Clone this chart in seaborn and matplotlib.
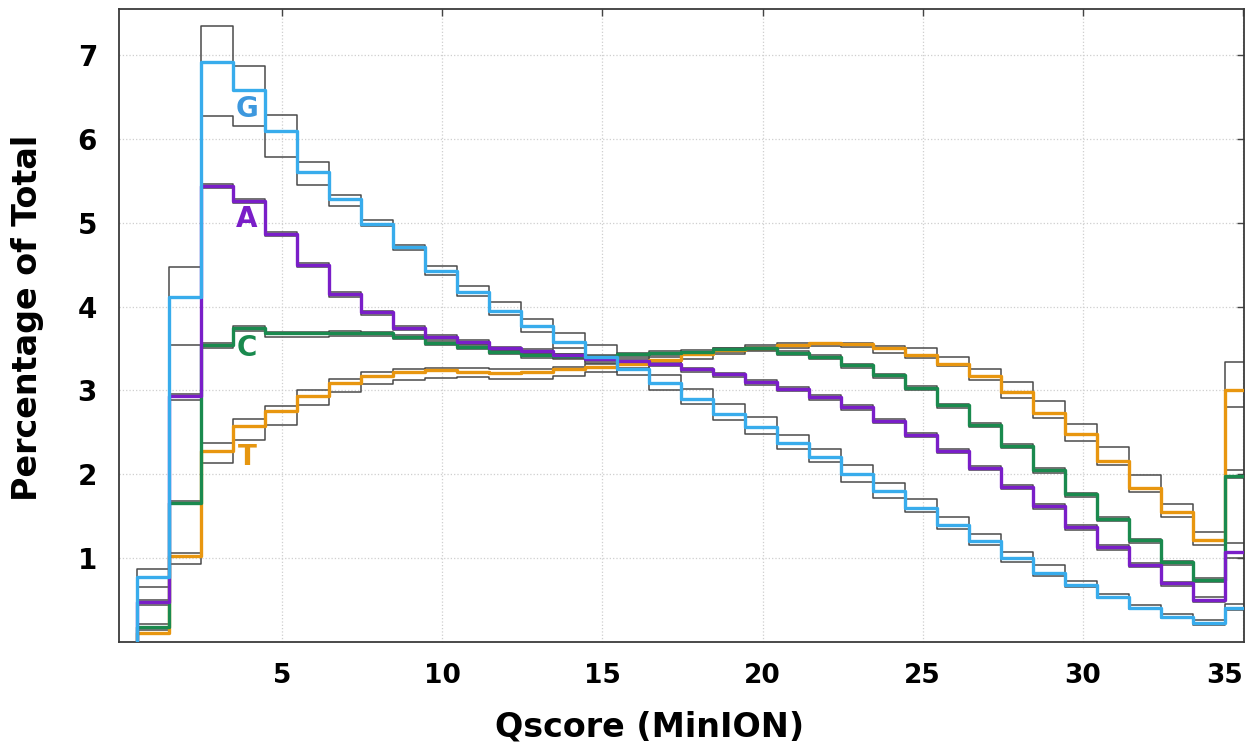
import numpy as np
import pandas as pd
import matplotlib
matplotlib.use("Agg")
import matplotlib.pyplot as plt
import seaborn as sns

# Qscore bins (width 1), left edge of the first bin
bin_start = 0.45
n_bins = 35

# percentage of total per Qscore bin, colored line = mean, black = bounds
G = [0.78, 4.11, 6.92, 6.58, 6.10, 5.61, 5.28, 4.99, 4.71, 4.42, 4.17, 3.95, 3.77, 3.58, 3.40, 3.25, 3.09, 2.90,
     2.72, 2.56, 2.37, 2.20, 2.00, 1.80, 1.60, 1.39, 1.20, 1.00, 0.82, 0.68, 0.54, 0.41, 0.30, 0.22, 0.41]
G_hi = [0.87, 4.47, 7.35, 6.87, 6.29, 5.73, 5.33, 5.03, 4.74, 4.48, 4.24, 4.05, 3.85, 3.69, 3.54, 3.34, 3.18, 3.02,
        2.84, 2.68, 2.47, 2.30, 2.11, 1.90, 1.70, 1.49, 1.29, 1.07, 0.92, 0.73, 0.57, 0.44, 0.33, 0.26, 0.45]
G_lo = [0.66, 3.54, 6.27, 6.15, 5.79, 5.45, 5.20, 4.96, 4.68, 4.38, 4.13, 3.90, 3.70, 3.51, 3.33, 3.18, 3.00, 2.84,
        2.65, 2.48, 2.30, 2.15, 1.91, 1.72, 1.55, 1.35, 1.16, 0.95, 0.79, 0.65, 0.52, 0.39, 0.29, 0.20, 0.38]

A = [0.47, 2.93, 5.44, 5.26, 4.87, 4.50, 4.15, 3.93, 3.75, 3.64, 3.58, 3.50, 3.47, 3.42, 3.38, 3.35, 3.32, 3.25,
     3.19, 3.10, 3.02, 2.92, 2.80, 2.64, 2.47, 2.28, 2.08, 1.85, 1.62, 1.37, 1.13, 0.92, 0.70, 0.50, 1.07]
A_hi = [0.50, 2.96, 5.46, 5.28, 4.89, 4.52, 4.17, 3.95, 3.77, 3.66, 3.60, 3.52, 3.49, 3.44, 3.41, 3.38, 3.34, 3.27,
        3.21, 3.12, 3.04, 2.94, 2.82, 2.66, 2.49, 2.30, 2.10, 1.87, 1.64, 1.39, 1.15, 0.94, 0.72, 0.53, 1.18]
A_lo = [0.44, 2.88, 5.41, 5.23, 4.84, 4.47, 4.12, 3.90, 3.72, 3.61, 3.55, 3.47, 3.44, 3.39, 3.35, 3.32, 3.29, 3.22,
        3.16, 3.07, 2.99, 2.89, 2.77, 2.61, 2.44, 2.25, 2.05, 1.82, 1.59, 1.34, 1.10, 0.89, 0.67, 0.48, 1.00]

C = [0.18, 1.66, 3.54, 3.75, 3.68, 3.68, 3.69, 3.68, 3.64, 3.57, 3.52, 3.46, 3.42, 3.41, 3.40, 3.43, 3.45, 3.46,
     3.49, 3.50, 3.45, 3.40, 3.30, 3.18, 3.03, 2.82, 2.59, 2.34, 2.05, 1.76, 1.47, 1.21, 0.95, 0.74, 1.98]
C_hi = [0.21, 1.68, 3.56, 3.77, 3.70, 3.70, 3.71, 3.70, 3.66, 3.59, 3.54, 3.48, 3.44, 3.43, 3.42, 3.45, 3.47, 3.48,
        3.51, 3.52, 3.47, 3.42, 3.32, 3.20, 3.05, 2.84, 2.61, 2.36, 2.07, 1.78, 1.49, 1.23, 0.97, 0.76, 2.05]
C_lo = [0.16, 1.64, 3.50, 3.71, 3.64, 3.64, 3.65, 3.65, 3.61, 3.54, 3.49, 3.43, 3.39, 3.38, 3.37, 3.40, 3.42, 3.43,
        3.46, 3.47, 3.42, 3.37, 3.27, 3.15, 3.00, 2.79, 2.56, 2.31, 2.02, 1.73, 1.44, 1.18, 0.92, 0.71, 1.95]

T = [0.11, 1.03, 2.28, 2.57, 2.75, 2.93, 3.09, 3.17, 3.22, 3.24, 3.22, 3.21, 3.22, 3.25, 3.28, 3.32, 3.36, 3.43,
     3.48, 3.51, 3.54, 3.56, 3.55, 3.50, 3.42, 3.32, 3.17, 2.98, 2.73, 2.48, 2.16, 1.84, 1.55, 1.22, 3.00]
T_hi = [0.14, 1.06, 2.37, 2.66, 2.81, 3.00, 3.14, 3.22, 3.26, 3.27, 3.27, 3.25, 3.25, 3.28, 3.31, 3.35, 3.40, 3.46,
        3.51, 3.54, 3.56, 3.57, 3.57, 3.53, 3.50, 3.40, 3.26, 3.10, 2.87, 2.60, 2.32, 1.99, 1.65, 1.31, 3.34]
T_lo = [0.09, 0.93, 2.13, 2.41, 2.59, 2.82, 2.98, 3.08, 3.12, 3.15, 3.16, 3.14, 3.14, 3.17, 3.22, 3.27, 3.32, 3.38,
        3.44, 3.48, 3.51, 3.53, 3.52, 3.45, 3.39, 3.29, 3.13, 2.91, 2.67, 2.40, 2.11, 1.79, 1.49, 1.15, 2.80]

bases = ["G", "A", "C", "T"]
means = {"G": G, "A": A, "C": C, "T": T}
bounds = {"G": (G_hi, G_lo), "A": (A_hi, A_lo), "C": (C_hi, C_lo), "T": (T_hi, T_lo)}
line_colors = {"G": "#38acec", "A": "#7a1ec8", "C": "#1a8a4e", "T": "#e8960f"}
text_colors = {"G": "#3d98de", "A": "#7a1ec8", "C": "#1a8a4e", "T": "#e6960f"}
label_pos = {"G": (3.9, 6.36), "A": (3.9, 5.05), "C": (3.9, 3.50), "T": (3.9, 2.205)}

edges = bin_start + np.arange(n_bins + 1)


def step_frame(vals):
    # outline of a histogram: rises from 0 at the first edge, steps-post after
    x = np.concatenate([[edges[0]], edges])
    y = np.concatenate([[0.0], vals, [vals[-1]]])
    return pd.DataFrame({"x": x, "y": y})


sns.set_style("white")
plt.rcParams["font.family"] = ["DejaVu Sans"]
plt.rcParams["text.color"] = "black"
plt.rcParams["xtick.labelcolor"] = "black"
plt.rcParams["ytick.labelcolor"] = "black"

fig = plt.figure(figsize=(12.55, 7.49), dpi=100)
ax = fig.add_axes([0.095, 0.143, 0.8964, 0.845])

# thin black bounds first, colored lines on top
for b in bases:
    for vals in bounds[b]:
        sns.lineplot(data=step_frame(vals), x="x", y="y", ax=ax, estimator=None, sort=False,
                     drawstyle="steps-post", color="#4a4a4a", linewidth=1.1, zorder=2)
for b in ["T", "C", "A", "G"]:
    sns.lineplot(data=step_frame(means[b]), x="x", y="y", ax=ax, estimator=None, sort=False,
                 drawstyle="steps-post", color=line_colors[b], linewidth=2.4, zorder=3)

for b in bases:
    ax.text(*label_pos[b], b, color=text_colors[b], fontsize=20, fontweight="bold",
            ha="center", va="center", zorder=4)

ax.set_xlim(-0.09, 35.04)
ax.set_ylim(0, 7.55)
ax.set_xticks([5, 10, 15, 20, 25, 30, 35])
ax.set_yticks([1, 2, 3, 4, 5, 6, 7])
ax.grid(True, linestyle=":", color="#cfcfcf", linewidth=0.9)
ax.set_axisbelow(True)
ax.tick_params(direction="in", length=5, width=1, color="#444444", top=True, right=True)
ax.tick_params(axis="x", labelsize=19, pad=15, labelcolor="black")
ax.tick_params(axis="y", labelsize=20, pad=16, labelcolor="black")
for lab in ax.get_xticklabels() + ax.get_yticklabels():
    lab.set_fontweight("bold")
# keep the last x label inside the figure
ax.get_xticklabels()[-1].set_horizontalalignment("right")
for sp in ax.spines.values():
    sp.set_color("#3a3a3a")
    sp.set_linewidth(1.3)

ax.set_xlabel("")
ax.set_ylabel("")
fig.text(650 / 1255, 1 - 727 / 749, "Qscore (MinION)", fontsize=24, fontweight="bold",
         ha="center", va="center", color="black")
fig.text(28 / 1255, 1 - 318 / 749, "Percentage of Total", fontsize=24, fontweight="bold",
         ha="center", va="center", rotation=90, color="black")

fig.savefig("out.png", dpi=100)
